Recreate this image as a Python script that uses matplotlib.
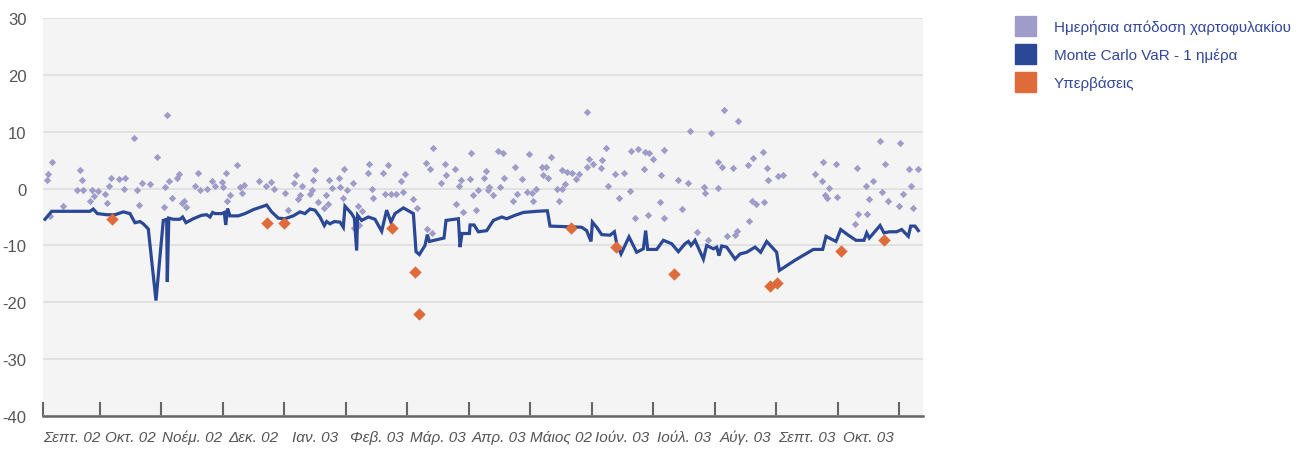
import matplotlib
matplotlib.use("Agg")
import matplotlib.pyplot as plt
from matplotlib.patches import Patch

plt.rcParams['font.family'] = ['Liberation Sans', 'DejaVu Sans']
plt.rcParams['axes.unicode_minus'] = False

###############
## Data (x = position in months, y = %)

month_labels = ['Σεπτ. 02', 'Οκτ. 02', 'Νοέμ. 02', 'Δεκ. 02', 'Ιαν. 03', 'Φεβ. 03', 'Μάρ. 03',
                'Απρ. 03', 'Μάιος 02', 'Ιούν. 03', 'Ιούλ. 03', 'Αύγ. 03', 'Σεπτ. 03', 'Οκτ. 03']

var_x = [0.105, 0.214, 0.837, 0.891, 0.957, 1.108, 1.244, 1.38, 1.488, 1.569, 1.651, 1.705, 1.786,
         1.911, 2.03, 2.085, 2.095, 2.12, 2.193, 2.301, 2.345, 2.399, 2.518, 2.654, 2.735, 2.79, 2.833,
         2.871, 2.979, 3.023, 3.045, 3.077, 3.115, 3.251, 3.359, 3.495, 3.712, 3.793, 3.901, 4.01,
         4.145, 4.254, 4.335, 4.417, 4.498, 4.579, 4.65, 4.688, 4.742, 4.812, 4.905, 4.959, 4.986,
         5.094, 5.138, 5.176, 5.192, 5.257, 5.366, 5.474, 5.583, 5.664, 5.734,
         5.8, 5.936, 6.099, 6.142, 6.196, 6.288, 6.326, 6.359, 6.597, 6.63, 6.831, 6.858, 6.89, 7.01,
         7.021, 7.086, 7.156, 7.292, 7.4, 7.536, 7.617, 7.753, 7.888, 8.105, 8.279, 8.322, 8.593,
         8.837, 8.918, 8.989, 9.011, 9.081, 9.163, 9.298, 9.369, 9.407, 9.477, 9.607, 9.732, 9.84,
         9.878, 9.911, 10.057, 10.166, 10.301, 10.41, 10.518, 10.573, 10.616, 10.681, 10.817, 10.871,
         10.979, 11.034, 11.071, 11.115, 11.196, 11.332, 11.413,
         11.521, 11.657, 11.749, 11.847, 12.009, 12.053, 12.308, 12.606, 12.758, 12.812, 12.975,
         13.051, 13.175, 13.3, 13.43, 13.474, 13.517, 13.691, 13.756, 13.842, 13.962, 14.043, 14.151,
         14.19, 14.26, 14.314]
var_y = [-5.4, -4.0, -4.0, -3.6, -4.4, -4.6, -4.6, -4.1, -4.4, -6.0, -5.8, -6.2, -7.1,
         -19.7, -5.6, -5.4, -16.4, -5.2, -5.4, -5.4, -5.0, -6.0, -5.3, -4.7, -4.6, -5.0, -4.2,
         -4.4, -4.4, -4.2, -6.4, -3.5, -4.8, -4.8, -4.4, -3.7, -2.9, -4.1, -5.2, -5.3,
         -4.8, -4.1, -4.4, -3.6, -3.8, -5.0, -6.5, -5.8, -6.2, -5.8, -5.9, -6.8, -3.1,
         -4.4, -5.2, -10.9, -4.7, -5.6, -5.0, -5.4, -7.5, -3.8, -5.9,
         -4.4, -3.4, -4.4, -11.1, -11.6, -10.0, -8.1, -9.3, -8.7, -5.6, -5.3, -10.3, -7.9, -7.9,
         -6.4, -6.4, -7.6, -7.4, -5.6, -5.0, -5.3, -4.7, -4.2, -4.0, -3.9, -6.6, -6.7,
         -6.8, -7.4, -9.3, -5.9, -6.8, -8.1, -8.2, -7.6, -9.7, -11.5, -8.5, -11.2, -10.6,
         -7.4, -10.7, -10.7, -9.1, -9.7, -11.1, -9.7, -9.3, -10.0, -9.1, -12.4, -10.0,
         -10.6, -10.3, -11.8, -10.1, -10.3, -12.4, -11.5,
         -11.2, -10.3, -11.2, -9.3, -11.2, -14.4, -12.6, -10.7, -10.7, -8.4, -9.3,
         -7.2, -8.2, -9.1, -9.1, -7.8, -8.7, -6.5, -7.8, -7.6, -7.6, -7.2, -8.4,
         -6.6, -6.6, -7.4]

ret_x = [0.214, 0.159, 0.132, 0.187, 0.393, 0.620, 0.675, 0.702, 0.729, 0.837, 0.864, 0.902, 0.973,
         1.081, 1.108, 1.146, 1.173, 1.314, 1.390, 1.412, 1.559, 1.596, 1.640, 1.678, 1.813, 1.922,
         2.041, 2.057, 2.084, 2.117, 2.171, 2.258, 2.291, 2.329, 2.366, 2.399, 2.551, 2.589, 2.627,
         2.746, 2.817, 2.871,
         2.979, 3.007, 3.045, 3.061, 3.115, 3.223, 3.278, 3.316, 3.348, 3.587, 3.695, 3.782, 3.836,
         4.010, 4.064, 4.162, 4.183, 4.216, 4.254, 4.292, 4.417, 4.444, 4.471, 4.498, 4.541, 4.639,
         4.671, 4.704, 4.731, 4.769, 4.888, 4.905, 4.948, 4.975, 5.018, 5.121, 5.132, 5.192, 5.214,
         5.257, 5.355, 5.376, 5.420, 5.447, 5.599, 5.637, 5.680, 5.734,
         5.817, 5.898, 5.925, 5.963, 6.088, 6.164, 6.299, 6.326, 6.370, 6.397, 6.424, 6.543, 6.614,
         6.630, 6.776, 6.793, 6.842, 6.869, 6.912, 7.021, 7.031, 7.064, 7.113, 7.151, 7.248, 7.275,
         7.308, 7.335, 7.389, 7.471, 7.509, 7.552, 7.579, 7.725, 7.753, 7.791, 7.861, 7.953, 7.986,
         8.024, 8.051, 8.094, 8.186, 8.213, 8.257, 8.295, 8.333, 8.430, 8.468, 8.512, 8.523, 8.566,
         8.59, 8.685, 8.745, 8.794, 8.918, 8.929, 8.956, 9.027, 9.152, 9.173, 9.228, 9.271, 9.379,
         9.450, 9.526, 9.623, 9.634, 9.705, 9.748, 9.857, 9.868, 9.922, 9.933, 9.998, 10.106, 10.122,
         10.171, 10.182, 10.410, 10.464, 10.573, 10.600, 10.714, 10.827, 10.844, 10.898, 10.936,
         11.060, 11.060, 11.115, 11.147, 11.196, 11.305, 11.332, 11.359, 11.386,
         11.549, 11.565, 11.603, 11.630, 11.673, 11.793, 11.803, 11.858, 11.874, 12.037, 12.107,
         12.633, 12.742, 12.769, 12.796, 12.834, 12.866, 12.975, 12.997, 13.284, 13.311, 13.338,
         13.457, 13.474, 13.517, 13.582, 13.691, 13.718, 13.777, 13.826, 13.994, 14.016, 14.059,
         14.162, 14.190, 14.233, 14.309]
ret_y = [4.7, 2.5, 1.5, -4.8, -3.1, -0.3, 3.2, 1.5, -0.3, -2.2, -0.3, -1.3, -0.5,
         -0.9, -2.5, 0.5, 1.9, 1.6, 0.0, 1.9, 8.9, -0.3, -2.9, 0.9, 0.8, 5.6,
         -3.2, 0.3, 12.9, 1.3, -1.6, 1.9, 2.6, -2.5, -2.1, -3.2, 0.5, 2.8, -0.2,
         0.0, 1.3, 0.5,
         1.1, 0.3, 2.8, -2.1, -1.2, 4.1, 0.3, -0.8, 0.6, 1.3, 0.5, 1.1, 0.0,
         -0.8, -3.7, 0.9, 2.4, -1.8, -1.2, 0.5, -0.9, -0.3, 1.5, 3.2, -2.4, -3.5,
         -1.1, -2.8, 1.5, 0.1, 1.8, 0.3, -1.6, 3.5, -0.2, 0.9, -6.9, -3.1, -6.4,
         -3.9, 2.8, 4.3, -0.1, -1.6, 2.8, -1.0, 4.1, -1.0,
         -1.0, 1.3, -0.6, 2.5, -1.9, -3.4, 4.5, -7.1, 3.4, -7.8, 7.2, 1.0, 4.3,
         2.4, 3.4, -2.8, 0.4, 1.5, -4.1, 1.6, 6.3, -1.1, -3.8, -0.2, 1.8, 3.1,
         -0.3, 0.3, -1.1, 6.6, 0.2, 6.3, 1.9, -2.2, 3.8, -0.9, 1.6, -0.6, 6.1,
         -0.7, -2.2, 0.0, 3.8, 2.4, 3.8, 1.8, 5.5, 0.0, -2.2, -0.1, 3.2, 0.8,
         3.0, 2.8, 1.6, 2.5, 13.4, 3.8, 5.2, 4.4, 3.6, 5.0, 7.2, 0.4, 2.5,
         -1.6, 2.8, -0.4, 6.6, -5.1, 6.9, 3.4, 6.5, -4.6, 6.2, 5.2, -2.4, 2.4,
         6.8, -5.1, 1.5, -3.6, 1.0, 10.2, -7.6, 0.3, -0.8, -9.1, 9.7,
         4.7, 0.1, 3.8, 13.9, -8.4, 3.6, -8.2, -7.5, 11.9,
         4.2, -5.7, -2.2, 5.4, -2.7, 6.5, -2.4, 3.7, 1.5, 2.2, 2.4,
         2.6, 1.3, 4.6, -1.1, -1.6, 0.1, 4.3, -1.5, -6.2, 3.7, -4.4,
         0.5, -4.4, -1.9, 1.4, 8.4, -0.6, 4.3, -2.2, -3.1, 8.1, -0.9,
         3.5, 0.5, -3.4, 3.5]

exc_x = [1.19, 3.71, 3.99, 5.75, 6.13, 6.19, 8.66, 9.40, 10.34, 11.90, 12.02, 13.06, 13.75]
exc_y = [-5.3, -6.0, -6.0, -6.9, -14.7, -22.1, -6.9, -10.3, -15.0, -17.1, -16.6, -11.0, -9.1]

labels = ['Ημερήσια απόδοση χαρτοφυλακίου', 'Monte Carlo VaR - 1 ημέρα', 'Υπερβάσεις']
##############

c_ret = '#9f9cca'
c_var = '#2a4895'
c_exc = '#df6a3a'

x_left = 0.073
x_right = 14.39

fig = plt.figure(figsize=(12.99, 4.52), dpi=100)
ax = fig.add_axes([43 / 1299, 1 - 417 / 452, 880 / 1299, 398 / 452])
ax.set_facecolor('#f4f4f4')

ax.scatter(ret_x, ret_y, marker='D', s=14, color=c_ret, linewidths=0, zorder=2)
ax.plot(var_x, var_y, color=c_var, lw=2.3, zorder=3, solid_joinstyle='miter')
ax.scatter(exc_x, exc_y, marker='D', s=40, color=c_exc, linewidths=0, zorder=4)

ax.set_xlim(x_left, x_right)
ax.set_ylim(-40, 30)
ax.set_yticks(range(-40, 31, 10))
ax.yaxis.grid(True, color='#dedede', lw=1.2)
ax.set_axisbelow(True)

bounds = [x_left] + list(range(1, 15))
ax.set_xticks(bounds)
ax.set_xticklabels([])
ax.set_xticks([(a + b) / 2 for a, b in zip(bounds[:-1], bounds[1:])], minor=True)
ax.set_xticklabels(month_labels, minor=True, style='italic')
ax.tick_params(axis='x', which='major', direction='in', length=10, width=1.5, color='#666666')
ax.tick_params(axis='x', which='minor', length=0, pad=10, labelsize=11, labelcolor='#555555')
ax.tick_params(axis='y', length=0, pad=12, labelsize=12, labelcolor='#555555')

for s in ['top', 'right', 'left']:
    ax.spines[s].set_visible(False)
ax.spines['bottom'].set_color('#666666')
ax.spines['bottom'].set_linewidth(1.8)

handles = [Patch(color=c_ret), Patch(color=c_var), Patch(color=c_exc)]
fig.legend(handles, labels, loc='upper left', bbox_to_anchor=(1001 / 1299, 1 - 3 / 452),
           frameon=False, fontsize=11, labelcolor='#33479a', handlelength=1.37,
           handleheight=1.64, handletextpad=1.2, labelspacing=0.52)

fig.savefig('out.png', dpi=100)
